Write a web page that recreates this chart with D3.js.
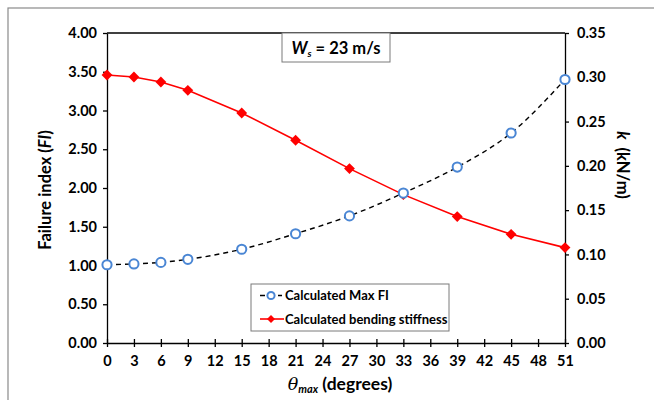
<!DOCTYPE html>
<html>
<head>
<meta charset="utf-8">
<script src="https://cdn.jsdelivr.net/npm/d3@7"></script>
<style>
  body { margin: 0; background: #fff; }
  svg { display: block; font-family: Lato, "Open Sans", sans-serif; font-weight: bold; }
</style>
</head>
<body>
<div id="chart"></div>
<script>
// values
const theta = [0, 3, 6, 9, 15, 21, 27, 33, 39, 45, 51];
const maxFI = [1.01, 1.02, 1.04, 1.08, 1.21, 1.41, 1.64, 1.935, 2.27, 2.71, 3.40];
const stiffness = [0.3026, 0.3003, 0.2947, 0.2853, 0.2597, 0.2289, 0.1969, 0.1675, 0.1427, 0.1227, 0.1077];
const xTicks = d3.range(0, 52, 3);
const leftTicks = [0, 0.5, 1, 1.5, 2, 2.5, 3, 3.5, 4];
const rightTicks = [0, 0.05, 0.1, 0.15, 0.2, 0.25, 0.3, 0.35];

const width = 654, height = 400;
const margin = { top: 33, right: 89, bottom: 57, left: 107 };

const svg = d3.select('#chart').append('svg')
  .attr('width', width).attr('height', height);

// gray outer frame
svg.append('rect')
  .attr('x', 8).attr('y', 8).attr('width', width).attr('height', height)
  .attr('fill', 'none').attr('stroke', '#8a8a8a').attr('stroke-width', 1.2);

const xScale = d3.scaleLinear().domain([0, 51]).range([margin.left, width - margin.right]);
const yLeft = d3.scaleLinear().domain([0, 4]).range([height - margin.bottom, margin.top]);
const yRight = d3.scaleLinear().domain([0, 0.35]).range([height - margin.bottom, margin.top]);

const pts = theta.map((t, i) => ({ t, fi: maxFI[i], k: stiffness[i] }));

// plot frame top
svg.append('line')
  .attr('x1', margin.left).attr('x2', width - margin.right)
  .attr('y1', margin.top).attr('y2', margin.top)
  .attr('stroke', '#000').attr('stroke-width', 1.3);

// axes
const xAxis = svg.append('g')
  .attr('transform', `translate(0, ${yLeft(0)})`)
  .call(d3.axisBottom(xScale).tickValues(xTicks).tickSize(4).tickPadding(9).tickSizeOuter(0));
xAxis.selectAll('.tick line').attr('y1', -4);

const leftAxis = svg.append('g')
  .attr('transform', `translate(${margin.left}, 0)`)
  .call(d3.axisLeft(yLeft).tickValues(leftTicks).tickFormat(d3.format('.2f')).tickSize(4).tickPadding(6).tickSizeOuter(0));

const rightAxis = svg.append('g')
  .attr('transform', `translate(${width - margin.right}, 0)`)
  .call(d3.axisRight(yRight).tickValues(rightTicks).tickFormat(d3.format('.2f')).tickSize(4).tickPadding(8).tickSizeOuter(0));

svg.selectAll('.domain, .tick line').attr('stroke', '#000').attr('stroke-width', 1.3);
svg.selectAll('.tick text').attr('font-size', 14.5).attr('font-weight', 'bold').attr('fill', '#000')
  .attr('font-family', 'Lato, sans-serif');

// stiffness line (red)
svg.append('path')
  .datum(pts)
  .attr('fill', 'none').attr('stroke', '#ff0000').attr('stroke-width', 1.6)
  .attr('d', d3.line().x(d => xScale(d.t)).y(d => yRight(d.k)));

const diamond = d3.symbol().type(d3.symbolDiamond2).size(75);
svg.append('g').selectAll('path')
  .data(pts).join('path')
  .attr('transform', d => `translate(${xScale(d.t)}, ${yRight(d.k)})`)
  .attr('d', diamond).attr('fill', '#ff0000');

// max FI line (dashed black with blue circles)
svg.append('path')
  .datum(pts)
  .attr('fill', 'none').attr('stroke', '#000').attr('stroke-width', 1.4)
  .attr('stroke-dasharray', '5,4')
  .attr('d', d3.line().curve(d3.curveMonotoneX).x(d => xScale(d.t)).y(d => yLeft(d.fi)));

svg.append('g').selectAll('circle')
  .data(pts).join('circle')
  .attr('cx', d => xScale(d.t)).attr('cy', d => yLeft(d.fi)).attr('r', 4.6)
  .attr('fill', '#fff').attr('stroke', '#4a86d4').attr('stroke-width', 2);

// title box
const tb = svg.append('g');
tb.append('rect').attr('x', 282).attr('y', margin.top).attr('width', 108).attr('height', 29)
  .attr('fill', '#fff').attr('stroke', '#7a7a7a').attr('stroke-width', 1);
const tt = tb.append('text').attr('x', 336).attr('y', 54).attr('text-anchor', 'middle')
  .attr('font-size', 16.5).attr('fill', '#000');
tt.append('tspan').attr('font-style', 'italic').text('W');
tt.append('tspan').attr('font-style', 'italic').attr('font-size', 10).attr('dy', 3).text('s');
tt.append('tspan').attr('dy', -3).text(' = 23 m/s');

// legend
const lg = svg.append('g');
lg.append('rect').attr('x', 251).attr('y', 284).attr('width', 198).attr('height', 47)
  .attr('fill', '#fff').attr('stroke', '#7a7a7a').attr('stroke-width', 1);
lg.append('line').attr('x1', 260).attr('x2', 282).attr('y1', 295.5).attr('y2', 295.5)
  .attr('stroke', '#000').attr('stroke-width', 1.4).attr('stroke-dasharray', '5,4');
lg.append('circle').attr('cx', 271).attr('cy', 295.5).attr('r', 3.6)
  .attr('fill', '#fff').attr('stroke', '#4a86d4').attr('stroke-width', 2);
lg.append('line').attr('x1', 260).attr('x2', 284).attr('y1', 319).attr('y2', 319)
  .attr('stroke', '#ff0000').attr('stroke-width', 1.6);
lg.append('path').attr('transform', 'translate(271, 319)').attr('d', d3.symbol().type(d3.symbolDiamond2).size(40)).attr('fill', '#ff0000');
lg.append('text').attr('x', 285).attr('y', 300).attr('font-size', 13).attr('fill', '#000').text('Calculated Max FI');
lg.append('text').attr('x', 285).attr('y', 324).attr('font-size', 13).attr('fill', '#000').text('Calculated bending stiffness');

// axis titles
const yl = svg.append('text').attr('transform', 'translate(51, 190) rotate(-90)')
  .attr('text-anchor', 'middle').attr('font-size', 16.5).attr('fill', '#000');
yl.append('tspan').text('Failure index (');
yl.append('tspan').attr('font-style', 'italic').text('FI');
yl.append('tspan').text(')');

const yr = svg.append('text').attr('transform', 'translate(617, 165) rotate(90)')
  .attr('text-anchor', 'middle').attr('font-size', 16.5).attr('fill', '#000')
  .style('white-space', 'pre');
yr.append('tspan').attr('font-style', 'italic').text('k');
yr.append('tspan').text('  (kN/m)');

const xl = svg.append('text').attr('x', 340).attr('y', 390)
  .attr('text-anchor', 'middle').attr('font-size', 17.5).attr('fill', '#000');
xl.append('tspan').attr('font-style', 'italic').attr('font-family', '"DejaVu Serif", serif').attr('font-weight', 'normal').text('θ');
xl.append('tspan').attr('font-style', 'italic').attr('font-size', 11).attr('dy', 3).text('max');
xl.append('tspan').attr('dy', -3).text(' (degrees)');
</script>
</body>
</html>
